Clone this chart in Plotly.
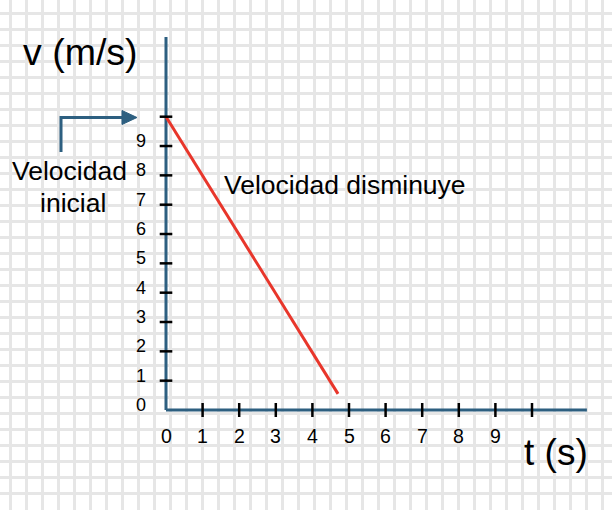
import plotly.graph_objects as go

# ---- data ----
line_t = [0, 4.7]          # time (s)
line_v = [10, 0.55]        # velocity (m/s)
x_tick_vals = [1, 2, 3, 4, 5, 6, 7, 8, 9, 10]
y_tick_vals = [1, 2, 3, 4, 5, 6, 7, 8, 9, 10]
x_label_vals = [0, 1, 2, 3, 4, 5, 6, 7, 8, 9]
x_label_text = ["0", "1", "2", "3", "4", "5", "6", "7", "8", "9"]
y_label_vals = [0, 1, 2, 3, 4, 5, 6, 7, 8, 9]
y_label_text = ["0", "1", "2", "3", "4", "5", "6", "7", "8", "9"]
T_END = 11.5   # extent of drawn t axis
V_END = 12.72  # extent of drawn v axis

# ---- layout constants (pixels) ----
W, H = 612, 510
X0, SX = 166, 36.6
Y0, SY = 410, 29.33
AXIS_COLOR = "#2d5f80"
RED = "#e8362b"
GRID = "#e6e6e6"
FONT = "Liberation Sans, Arial, sans-serif"

fig = go.Figure()

# invisible trace for base (grid paper) axes
fig.add_trace(go.Scatter(x=[0], y=[0], mode="markers", marker=dict(opacity=0),
                         hoverinfo="skip", showlegend=False, xaxis="x", yaxis="y"))

# axis lines
fig.add_trace(go.Scatter(x=[0, 0], y=[0, V_END], mode="lines",
                         line=dict(color=AXIS_COLOR, width=3), showlegend=False,
                         xaxis="x2", yaxis="y2", cliponaxis=False))
fig.add_trace(go.Scatter(x=[0, T_END], y=[0, 0], mode="lines",
                         line=dict(color=AXIS_COLOR, width=3), showlegend=False,
                         xaxis="x2", yaxis="y2", cliponaxis=False))

# red line
fig.add_trace(go.Scatter(x=line_t, y=line_v, mode="lines",
                         line=dict(color=RED, width=3), showlegend=False,
                         xaxis="x2", yaxis="y2", cliponaxis=False))

# tick marks
fig.add_trace(go.Scatter(x=x_tick_vals, y=[0] * len(x_tick_vals), mode="markers",
                         marker=dict(symbol="line-ns", size=10,
                                     line=dict(color="black", width=2.5)),
                         showlegend=False, xaxis="x2", yaxis="y2", cliponaxis=False))
fig.add_trace(go.Scatter(x=[0] * len(y_tick_vals), y=y_tick_vals, mode="markers",
                         marker=dict(symbol="line-ew", size=9,
                                     line=dict(color="black", width=2.5)),
                         showlegend=False, xaxis="x2", yaxis="y2", cliponaxis=False))

annotations = []
for v, t in zip(x_label_vals, x_label_text):
    annotations.append(dict(x=v, y=0, xref="x2", yref="y2", text=t, showarrow=False,
                            yshift=-26, font=dict(size=19.5, color="black", family=FONT)))
for v, t in zip(y_label_vals, y_label_text):
    annotations.append(dict(x=0, y=v, xref="x2", yref="y2", text=t, showarrow=False,
                            xshift=-25, yshift=5, font=dict(size=18, color="black", family=FONT)))

# titles and labels (pixel coordinates on the base axes)
annotations += [
    dict(x=80, y=52, xref="x", yref="y", text="v (m/s)", showarrow=False,
         font=dict(size=37.5, color="black", family=FONT)),
    dict(x=556, y=452, xref="x", yref="y", text="t (s)", showarrow=False,
         font=dict(size=37, color="black", family=FONT)),
    dict(x=345, y=185, xref="x", yref="y", text="Velocidad disminuye", showarrow=False,
         font=dict(size=26.5, color="black", family=FONT)),
    dict(x=69, y=171, xref="x", yref="y", text="Velocidad", showarrow=False,
         font=dict(size=26.5, color="black", family=FONT)),
    dict(x=73, y=203, xref="x", yref="y", text="inicial", showarrow=False,
         font=dict(size=26.5, color="black", family=FONT)),
]

shapes = [
    dict(type="path", xref="x", yref="y", path="M 61 152 L 61 117.5 L 124 117.5",
         line=dict(color=AXIS_COLOR, width=3)),
    dict(type="path", xref="x", yref="y", path="M 122 110.5 L 137 117.5 L 122 124.5 Z",
         fillcolor=AXIS_COLOR, line=dict(color=AXIS_COLOR, width=1)),
]

fig.update_layout(
    width=W, height=H,
    margin=dict(l=0, r=0, t=0, b=0),
    paper_bgcolor="white", plot_bgcolor="white",
    showlegend=False,
    xaxis=dict(range=[0, W], showgrid=True, gridcolor=GRID, gridwidth=3,
               tickmode="linear", tick0=10.5, dtick=16, showticklabels=False,
               zeroline=False, showline=False, ticks="", fixedrange=True),
    yaxis=dict(range=[H, 0], showgrid=True, gridcolor=GRID, gridwidth=3,
               tickmode="linear", tick0=13, dtick=16, showticklabels=False,
               zeroline=False, showline=False, ticks="", fixedrange=True),
    xaxis2=dict(range=[-X0 / SX, (W - X0) / SX], overlaying="x", visible=False,
                fixedrange=True),
    yaxis2=dict(range=[-(H - Y0) / SY, Y0 / SY], overlaying="y", visible=False,
                fixedrange=True),
    annotations=annotations,
    shapes=shapes,
)

fig.write_html("out.html")
